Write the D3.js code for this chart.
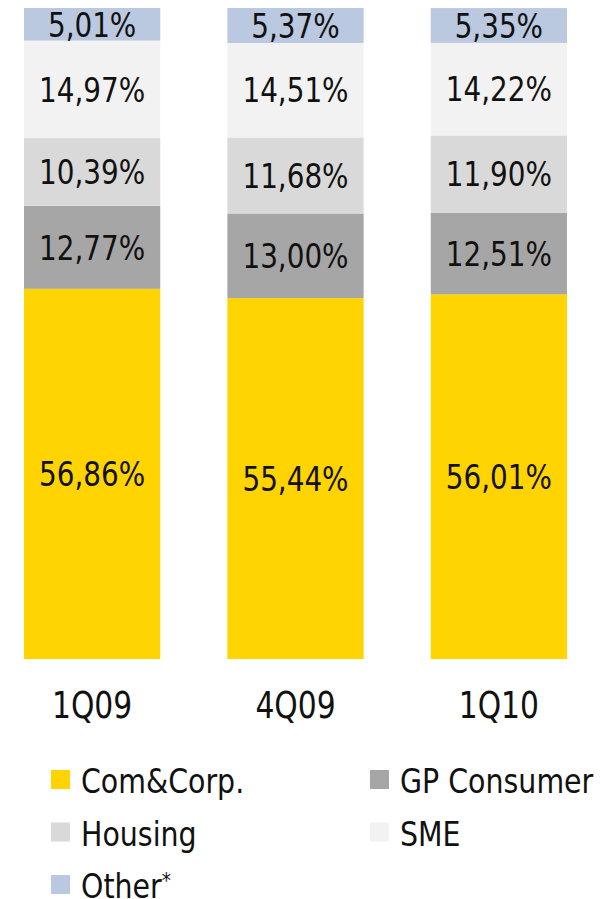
<!DOCTYPE html>
<html>
<head>
<meta charset="utf-8">
<script src="https://cdn.jsdelivr.net/npm/d3@7"></script>
<style>
  body { margin: 0; background: #fff; }
  svg text { font-family: "DejaVu Sans Condensed", "DejaVu Sans", sans-serif; fill: #111; }
</style>
</head>
<body>
<svg id="chart"></svg>
<script>
const quarters = ["1Q09", "4Q09", "1Q10"];
const segments = ["Com&Corp.", "GP Consumer", "Housing", "SME", "Other"];
const comCorp = [56.86, 55.44, 56.01];
const gpConsumer = [12.77, 13.00, 12.51];
const housing = [10.39, 11.68, 11.90];
const sme = [14.97, 14.51, 14.22];
const other = [5.01, 5.37, 5.35];
const legendLabels = ["Com&Corp.", "GP Consumer", "Housing", "SME", "Other"];

const width = 600;
const height = 899;

const colors = {
  "Com&Corp.": "#ffd400",
  "GP Consumer": "#a6a6a6",
  "Housing": "#d9d9d9",
  "SME": "#f2f2f2",
  "Other": "#bac8e0"
};

const rows = quarters.map((q, i) => ({
  quarter: q,
  "Com&Corp.": comCorp[i],
  "GP Consumer": gpConsumer[i],
  "Housing": housing[i],
  "SME": sme[i],
  "Other": other[i]
}));

const svg = d3.select("#chart")
  .attr("width", width)
  .attr("height", height);

const xScale = d3.scaleBand()
  .domain(quarters)
  .range([24, 567])
  .paddingInner(0.33)
  .paddingOuter(0);

const yScale = d3.scaleLinear()
  .domain([0, 100])
  .range([659, 8]);

const series = d3.stack().keys(segments)(rows);

const fmt = v => v.toFixed(2).replace(".", ",") + "%";

// narrow the glyphs a bit, the original face is condensed
const squeeze = (x, y, sx) => `translate(${x},${y}) scale(${sx},1)`;

const groups = svg.selectAll(".series")
  .data(series)
  .enter()
  .append("g")
  .attr("class", "series")
  .attr("fill", d => colors[d.key]);

groups.selectAll("rect")
  .data(d => d)
  .enter()
  .append("rect")
  .attr("x", d => xScale(d.data.quarter))
  .attr("y", d => yScale(d[1]))
  .attr("width", xScale.bandwidth())
  .attr("height", d => yScale(d[0]) - yScale(d[1]));

groups.selectAll("text")
  .data(d => d.map(p => ({ p, key: d.key })))
  .enter()
  .append("text")
  .attr("transform", d => squeeze(
    xScale(d.p.data.quarter) + xScale.bandwidth() / 2,
    (yScale(d.p[0]) + yScale(d.p[1])) / 2, 0.91))
  .attr("dy", "0.36em")
  .attr("text-anchor", "middle")
  .attr("font-size", 34)
  .text(d => fmt(d.p.data[d.key]));

// category labels
svg.append("g")
  .selectAll("text")
  .data(quarters)
  .enter()
  .append("text")
  .attr("transform", d => squeeze(xScale(d) + xScale.bandwidth() / 2, 718, 0.87))
  .attr("text-anchor", "middle")
  .attr("font-size", 38)
  .text(d => d);

// legend
const legendItems = svg.append("g")
  .selectAll("g")
  .data(segments)
  .enter()
  .append("g")
  .attr("transform", (d, i) => `translate(${i % 2 === 0 ? 51 : 370}, ${770 + Math.floor(i / 2) * 52.5})`);

legendItems.append("rect")
  .attr("width", 19)
  .attr("height", 19)
  .attr("fill", d => colors[d]);

const legendText = legendItems.append("text")
  .attr("transform", squeeze(30, 23, 0.93))
  .attr("font-size", 34);

legendText.append("tspan")
  .text((d, i) => legendLabels[i]);

legendText.filter(d => d === "Other")
  .append("tspan")
  .attr("font-size", 22)
  .attr("dy", -10)
  .text("*");
</script>
</body>
</html>
